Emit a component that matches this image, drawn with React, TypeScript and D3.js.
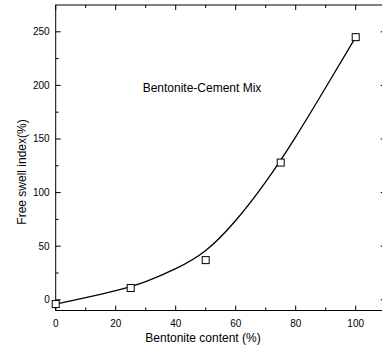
import React, { useRef, useEffect } from "react";
import * as d3 from "d3";

// measured points
const bentonite = [0, 25, 50, 75, 100];
const swellIndex = [-4, 11, 37, 128, 245];

// fitted curve
const fitX = [0, 10, 20, 30, 40, 50, 60, 70, 80, 90, 100];
const fitY = [-4, 2, 8.5, 17, 29, 46, 74, 110, 152, 198, 245];

const xMajor = [0, 20, 40, 60, 80, 100];
const xMinor = [10, 30, 50, 70, 90];
const yMajor = [0, 50, 100, 150, 200, 250];
const yMinor = [25, 75, 125, 175, 225];

const W = 382;
const H = 350;

export default function App() {
  const ref = useRef<SVGSVGElement>(null);

  useEffect(() => {
    if (!ref.current) return;
    const svg = d3.select(ref.current);
    svg.selectAll("*").remove();

    const x = d3.scaleLinear().domain([0, 110]).range([55.7, 385.7]);
    const y = d3.scaleLinear().domain([-10, 275]).range([310.5, 5]);
    const font = "Liberation Sans, Arial, sans-serif";

    const [x0, x1] = x.range();
    const [y0, y1] = y.range();

    // frame
    svg.append("rect")
      .attr("x", x0).attr("y", y1)
      .attr("width", x1 - x0).attr("height", y0 - y1)
      .attr("fill", "none").attr("stroke", "#000").attr("stroke-width", 1);

    const tickLen = (major: boolean) => (major ? 5 : 3);

    // ticks on all four sides, pointing inward
    const xt = [...xMajor.map(v => ({ v, m: true })), ...xMinor.map(v => ({ v, m: false }))];
    xt.forEach(t => {
      svg.append("line")
        .attr("x1", x(t.v)).attr("x2", x(t.v))
        .attr("y1", y0).attr("y2", y0 - tickLen(t.m))
        .attr("stroke", "#000");
      svg.append("line")
        .attr("x1", x(t.v)).attr("x2", x(t.v))
        .attr("y1", y1).attr("y2", y1 + tickLen(t.m))
        .attr("stroke", "#000");
    });
    const yt = [...yMajor.map(v => ({ v, m: true })), ...yMinor.map(v => ({ v, m: false }))];
    yt.forEach(t => {
      svg.append("line")
        .attr("y1", y(t.v)).attr("y2", y(t.v))
        .attr("x1", x0).attr("x2", x0 + tickLen(t.m))
        .attr("stroke", "#000");
      svg.append("line")
        .attr("y1", y(t.v)).attr("y2", y(t.v))
        .attr("x1", x1).attr("x2", x1 - tickLen(t.m))
        .attr("stroke", "#000");
    });

    // tick labels
    svg.append("g").selectAll("text")
      .data(xMajor).join("text")
      .attr("x", d => x(d)).attr("y", y0 + 16)
      .attr("text-anchor", "middle")
      .attr("font-family", font).attr("font-size", 10)
      .text(d => d);
    svg.append("g").selectAll("text")
      .data(yMajor).join("text")
      .attr("x", x0 - 6).attr("y", d => y(d) + 3.5)
      .attr("text-anchor", "end")
      .attr("font-family", font).attr("font-size", 10)
      .text(d => d);

    // axis titles
    svg.append("text")
      .attr("x", 203).attr("y", 342)
      .attr("text-anchor", "middle")
      .attr("font-family", font).attr("font-size", 12)
      .text("Bentonite content (%)");
    svg.append("text")
      .attr("transform", "translate(26,172) rotate(-90)")
      .attr("text-anchor", "middle")
      .attr("font-family", font).attr("font-size", 12)
      .text("Free swell index(%)");

    svg.append("text")
      .attr("x", 202).attr("y", 92)
      .attr("text-anchor", "middle")
      .attr("font-family", font).attr("font-size", 12)
      .text("Bentonite-Cement Mix");

    // fitted curve
    const line = d3.line<number>()
      .x((_, i) => x(fitX[i]))
      .y(d => y(d))
      .curve(d3.curveNatural);
    svg.append("path")
      .datum(fitY)
      .attr("fill", "none")
      .attr("stroke", "#000")
      .attr("stroke-width", 1.3)
      .attr("d", line);

    // squares
    const s = 7;
    svg.append("g").selectAll("rect")
      .data(bentonite).join("rect")
      .attr("x", d => x(d) - s / 2)
      .attr("y", (_, i) => y(swellIndex[i]) - s / 2)
      .attr("width", s).attr("height", s)
      .attr("fill", "#fff").attr("stroke", "#000").attr("stroke-width", 1);
  }, []);

  return (
    <svg
      ref={ref}
      width={W}
      height={H}
      style={{ position: "absolute", left: 0, top: 0, background: "#fff" }}
    />
  );
}
